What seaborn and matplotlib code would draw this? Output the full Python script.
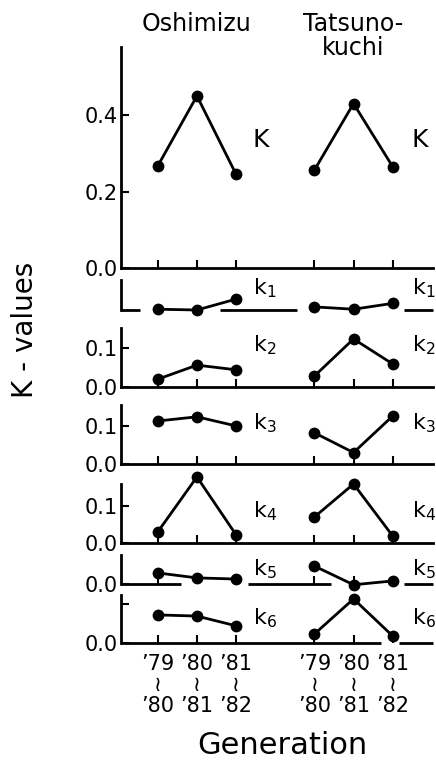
import matplotlib
matplotlib.use("Agg")
import matplotlib.pyplot as plt
import matplotlib.transforms as mtrans
import numpy as np
import pandas as pd
import seaborn as sns

# ---------------- data ----------------
sites = ["Oshimizu", "Tatsunokuchi"]
site_titles = ["Oshimizu", "Tatsuno-\nkuchi"]
generations = ["'79-'80", "'80-'81", "'81-'82"]
gen_labels = ["’79\n≀\n’80", "’80\n≀\n’81", "’81\n≀\n’82"]
factors = ["K", "k1", "k2", "k3", "k4", "k5", "k6"]
factor_labels = ["K", r"k$_1$", r"k$_2$", r"k$_3$", r"k$_4$", r"k$_5$", r"k$_6$"]

K_osh = [0.267, 0.450, 0.245]
K_tat = [0.256, 0.430, 0.265]
k1_osh = [0.002, 0.000, 0.028]
k1_tat = [0.008, 0.002, 0.017]
k2_osh = [0.020, 0.056, 0.044]
k2_tat = [0.028, 0.123, 0.059]
k3_osh = [0.113, 0.124, 0.100]
k3_tat = [0.082, 0.030, 0.126]
k4_osh = [0.030, 0.178, 0.022]
k4_tat = [0.070, 0.159, 0.019]
k5_osh = [0.029, 0.016, 0.013]
k5_tat = [0.047, -0.002, 0.008]
k6_osh = [0.072, 0.069, 0.044]
k6_tat = [0.023, 0.113, 0.018]

values = {
    "K": (K_osh, K_tat), "k1": (k1_osh, k1_tat), "k2": (k2_osh, k2_tat),
    "k3": (k3_osh, k3_tat), "k4": (k4_osh, k4_tat), "k5": (k5_osh, k5_tat),
    "k6": (k6_osh, k6_tat),
}

rows = []
for f in factors:
    for si, s in enumerate(sites):
        for gi, g in enumerate(generations):
            rows.append(dict(factor=f, site=s, generation=g,
                             pos=gi + 4 * si, value=values[f][si][gi]))
df = pd.DataFrame(rows)

# ---------------- style ----------------
sns.set_style("ticks")
plt.rcParams["font.family"] = ["DejaVu Sans"]
plt.rcParams["mathtext.fontset"] = "dejavusans"
for k in ["text.color", "axes.labelcolor", "xtick.color", "ytick.color",
          "axes.edgecolor"]:
    plt.rcParams[k] = "black"

W, H = 436, 765
fig = plt.figure(figsize=(W / 100, H / 100), dpi=100)

# panel extents in pixels (top, bottom) and y-limits
panel_px = [(47, 268), (280, 310), (328, 387), (405, 464),
            (484, 543), (555, 584), (595, 643)]
ytops = [0.578, 0.077, 0.151, 0.155, 0.159, 0.076, 0.123]
yticks = [[0, 0.2, 0.4], [], [0, 0.1], [0, 0.1], [0, 0.1], [0], [0, 0.1]]
yticklabels = [["0.0", "0.2", "0.4"], [], ["0.0", "0.1"], ["0.0", "0.1"],
               ["0.0", "0.1"], ["0.0"], ["0.0", ""]]
label_yfrac = [0.58, 0.72, 0.71, 0.69, 0.54, 0.50, 0.52]
# broken baselines for some panels (x extents in data units)
broken = {
    "k1": [(-0.94, -0.45), (1.6, 3.55), (6.28, 7.03)],
    "k5": [(-0.94, 0.58), (2.3, 4.43), (6.28, 7.03)],
    "k6": [(-0.94, 5.7), (6.15, 7.03)],
}

left_px, right_px = 121, 433
xlim = (-0.94, 7.03)
positions = sorted(df["pos"].unique())

axes = []
for i, f in enumerate(factors):
    top, bot = panel_px[i]
    ax = fig.add_axes([left_px / W, 1 - bot / H, (right_px - left_px) / W, (bot - top) / H])
    axes.append(ax)
    sub = df[df["factor"] == f]
    sns.lineplot(data=sub, x="pos", y="value", units="site", estimator=None,
                 color="black", marker="o", markersize=8.5, linewidth=2,
                 markeredgecolor="black", markeredgewidth=0, ax=ax,
                 legend=False, clip_on=False, zorder=5)
    ax.set_xlim(*xlim)
    ax.set_ylim(0, ytops[i])
    ax.set_xlabel("")
    ax.set_ylabel("")
    for sp in ["top", "right"]:
        ax.spines[sp].set_visible(False)
    ax.spines["left"].set_linewidth(2)
    ax.spines["bottom"].set_linewidth(2)
    ax.set_yticks(yticks[i])
    ax.set_yticklabels(yticklabels[i])
    ax.tick_params(axis="y", direction="in", length=6, width=1.5,
                   labelsize=15, pad=2)
    ax.set_xticks(positions)
    ax.tick_params(axis="x", direction="in", length=6, width=1.5,
                   labelsize=15, pad=8)
    if f in broken:
        ax.spines["bottom"].set_visible(False)
        for a, b in broken[f]:
            ax.plot([a, b], [0, 0], color="black", lw=2, clip_on=False,
                    solid_capstyle="butt")
    if f == "k1":
        ax.tick_params(axis="both", length=0)
    if i < len(factors) - 1:
        ax.set_xticklabels([])
    else:
        ax.set_xticklabels(gen_labels * 2, linespacing=1.05)
    tr = mtrans.blended_transform_factory(ax.transData, ax.transAxes)
    for xlab in (2.43, 6.49):
        ax.text(xlab, label_yfrac[i], factor_labels[i], transform=tr,
                fontsize=18 if f == "K" else 16, va="center", ha="left",
                clip_on=False)

# site titles
tr0 = mtrans.blended_transform_factory(axes[0].transData, fig.transFigure)
axes[0].text(1, 1 - 12 / H, site_titles[0], transform=tr0, ha="center",
             va="top", fontsize=17)
axes[0].text(5, 1 - 12 / H, site_titles[1], transform=tr0, ha="center",
             va="top", fontsize=17, linespacing=1.0)

fig.text(25 / W, 1 - 330 / H, "K - values", rotation=90, ha="center",
         va="center", fontsize=20)
fig.text(282 / W, 1 - 746 / H, "Generation", ha="center", va="center",
         fontsize=22)

fig.savefig("out.png", dpi=100)
